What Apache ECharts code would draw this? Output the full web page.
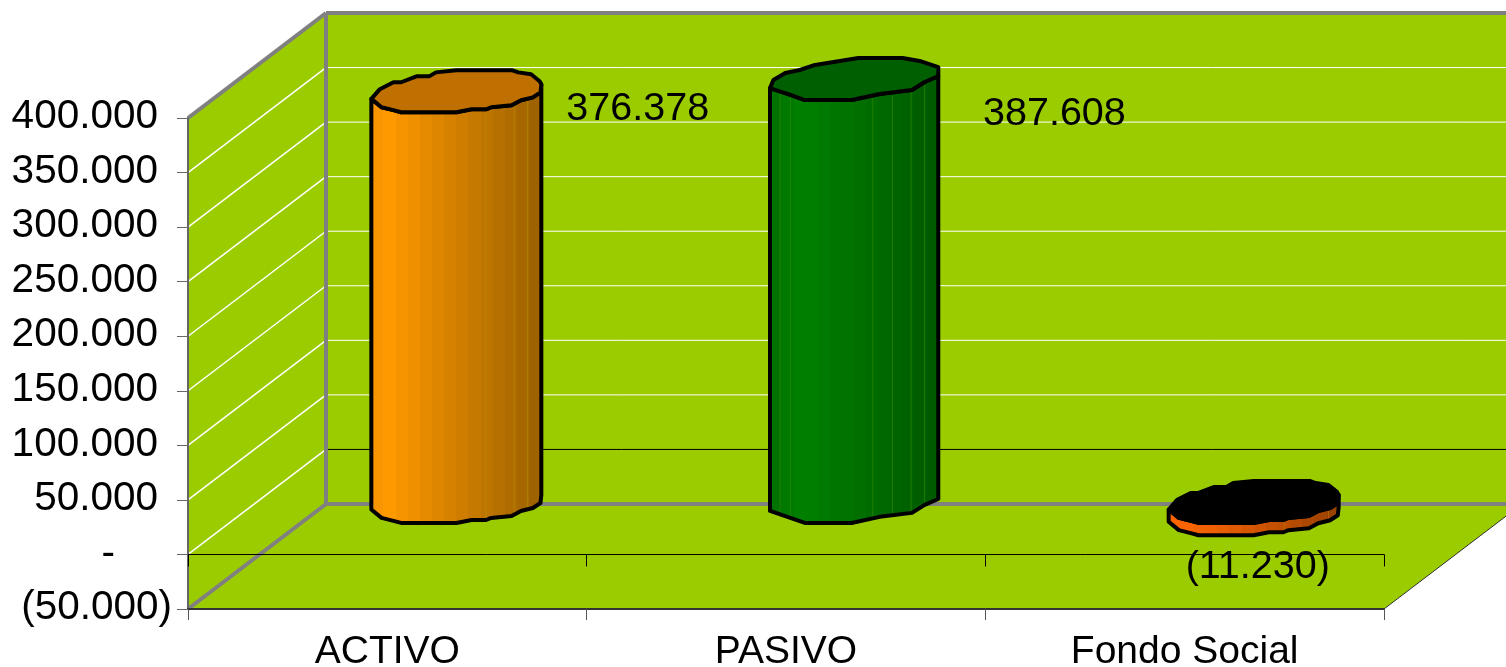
<!DOCTYPE html>
<html><head><meta charset="utf-8">
<style>html,body{margin:0;padding:0;background:#fff}#c{width:1506px;height:667px}</style>
<script src="https://cdn.jsdelivr.net/npm/echarts@6/dist/echarts.min.js"></script>
</head><body><div id="c"></div>
<script>
const categories = ['ACTIVO', 'PASIVO', 'Fondo Social'];
const values = [376378, 387608, -11230];
const yMin = -50000, yMax = 400000, yStep = 50000;

// Oblique projection and styling
const DEPTH_X = 138, DEPTH_Y = -105;
const WALL = '#9BCC00', EDGE = '#808080';
const FONT = '39.5px "Liberation Sans", Arial, sans-serif';
const RX = 85, RY = 21;
// Hand-traced jagged outlines of the projected circle (unit radius, clockwise from the left)
const OUTLINE_A = [[-1,.36],[-.9,-.1],[-.74,-.43],[-.65,-.43],[-.47,-.71],[-.32,-.71],[-.24,-.9],[0,-1],[.66,-1],[.73,-.9],[.88,-.81],[.98,-.48],[1,-.33],[.99,.05],[.9,.29],[.76,.43],[.65,.67],[.41,.76],[.35,.86],[.18,.86],[0,1],[-.65,1],[-.74,.9],[-.88,.76]];
const OUTLINE_B = [[-1,.43],[-.96,.05],[-.82,-.29],[-.65,-.43],[-.47,-.67],[.04,-1],[.56,-1],[.76,-.86],[.98,-.57],[.98,-.14],[.82,.14],[.67,.52],[.29,.71],[-.04,1],[-.59,1],[-.76,.76]];
const SHAPES = [OUTLINE_A, OUTLINE_B, OUTLINE_A];
const RIGHT_IDX = [12, 9, 12];
const BODY = [
  [[0,'#F59200'],[.1,'#FF9900'],[1,'#9A6000']],
  [[0,'#007000'],[.2,'#008000'],[1,'#005800']],
  [[0,'#FF6600'],[.25,'#F06000'],[1,'#964000']]
];
const CAP = ['#C07000', '#005F00', '#000000'];
const SEAMS = [[.675,.84,.92], [.06,.12,.605,.72,.83,.91], [.68,.94]];
const SEAM_COLOR = ['#B89000', '#2E8A00', '#C07000'];
const LABEL_NUDGE = [[110, 18], [128, 35], [-68, 65]];

function fmt(v) {
  const s = Math.abs(v).toString().replace(/\B(?=(\d{3})+$)/g, '.');
  return v < 0 ? '(' + s + ')' : s;
}
function hex(c) { return [1,3,5].map(i => parseInt(c.substr(i,2),16)); }
function bands(anchors, n) {
  const stops = [];
  const at = t => {
    let k = 0;
    while (k < anchors.length - 2 && t > anchors[k+1][0]) k++;
    const a = anchors[k], b = anchors[k+1], f = (t - a[0]) / (b[0] - a[0]);
    const x = hex(a[1]), y = hex(b[1]);
    return 'rgb(' + x.map((q,i) => Math.round(q + (y[i]-q)*f)).join(',') + ')';
  };
  for (let i = 0; i < n; i++) {
    const c = at((i + .5) / n);
    stops.push({offset: i/n, color: c}, {offset: (i+1)/n, color: c});
  }
  return stops;
}

function renderWalls(params, api) {
  const g = params.coordSys, yAt = v => api.coord([0, v])[1];
  const x0 = g.x, x1 = g.x + g.width;
  const top = yAt(yMax), bot = yAt(yMin);
  const poly = (pts, style) => ({type:'polygon', shape:{points:pts}, style});
  const line = (a, b, stroke, lineWidth) => ({type:'line', shape:{x1:a[0],y1:a[1],x2:b[0],y2:b[1]}, style:{stroke, lineWidth}});
  const kids = [
    poly([[x0+DEPTH_X,top+DEPTH_Y],[x1+DEPTH_X,top+DEPTH_Y],[x1+DEPTH_X,bot+DEPTH_Y],[x0+DEPTH_X,bot+DEPTH_Y]], {fill:WALL}),
    poly([[x0,top],[x0+DEPTH_X,top+DEPTH_Y],[x0+DEPTH_X,bot+DEPTH_Y],[x0,bot]], {fill:WALL}),
    poly([[x0,bot],[x0+DEPTH_X,bot+DEPTH_Y],[x1+DEPTH_X,bot+DEPTH_Y],[x1,bot]], {fill:WALL})
  ];
  for (let v = yMin + yStep; v < yMax; v += yStep) {
    const y = yAt(v);
    kids.push(line([x0,y],[x0+DEPTH_X,y+DEPTH_Y],'#FFFFFF',1.5));
    kids.push(line([x0+DEPTH_X,y+DEPTH_Y],[x1+DEPTH_X,y+DEPTH_Y], v === 0 ? '#000000' : '#FFFFFF', 1));
  }
  kids.push(line([x0,top],[x0+DEPTH_X,top+DEPTH_Y],EDGE,4));
  kids.push(line([x0+DEPTH_X,top+DEPTH_Y],[x1+DEPTH_X,top+DEPTH_Y],EDGE,4));
  kids.push(line([x0+DEPTH_X,top+DEPTH_Y],[x0+DEPTH_X,bot+DEPTH_Y],EDGE,4));
  kids.push(line([x0+DEPTH_X,bot+DEPTH_Y],[x1+DEPTH_X,bot+DEPTH_Y],EDGE,4));
  kids.push(line([x0,bot],[x0+DEPTH_X,bot+DEPTH_Y],EDGE,4));
  kids.push(line([x1,bot],[x1+DEPTH_X,bot+DEPTH_Y],'#333333',1));
  return {type:'group', children:kids};
}

function renderCylinder(params, api) {
  const i = api.value(0), v = api.value(1);
  const s = SHAPES[i];
  const cx = api.coord([i, 0])[0] + DEPTH_X / 2;
  const yOf = w => api.coord([i, w])[1] + DEPTH_Y / 2;
  const capY = yOf(Math.max(v, 0)), baseY = yOf(Math.min(v, 0));
  const ring = cy => s.map(p => [cx + p[0]*RX, cy + p[1]*RY]);
  // Front half of a ring, walking from the right extreme round the bottom to the left extreme
  const lower = cy => {
    const r = ring(cy);
    return r.slice(RIGHT_IDX[i]).concat([r[0]]);
  };
  const bodyPts = lower(baseY).concat(lower(capY).reverse());
  const yOnLower = (x, cy) => {
    const pts = lower(cy);
    for (let k = 0; k < pts.length - 1; k++) {
      const a = pts[k], b = pts[k+1];
      if (x <= a[0] && x >= b[0]) return a[1] + (b[1]-a[1]) * (a[0]-x) / ((a[0]-b[0]) || 1);
    }
    return cy;
  };
  const seams = SEAMS[i].map(f => {
    const x = cx - RX + f * 2 * RX;
    return {type:'line', shape:{x1:x, y1:yOnLower(x, capY), x2:x, y2:yOnLower(x, baseY)},
            style:{stroke:SEAM_COLOR[i], lineWidth:1, opacity:.7}};
  });
  const nudge = LABEL_NUDGE[i];
  return {type:'group', children:[
    {type:'polygon', shape:{points:bodyPts}, style:{
      fill:{type:'linear',x:0,y:0,x2:1,y2:0,colorStops:bands(BODY[i],14)}}},
    ...seams,
    {type:'polygon', shape:{points:bodyPts}, style:{fill:'none', stroke:'#000', lineWidth:4, lineJoin:'round'}},
    {type:'polygon', shape:{points:ring(capY)}, style:{fill:CAP[i], stroke:'#000', lineWidth:4, lineJoin:'round'}},
    {type:'text', style:{x:cx+nudge[0], y:capY+nudge[1], text:fmt(v), font:FONT, fill:'#000', textAlign:'left', textVerticalAlign:'middle'}}
  ]};
}

const chart = echarts.init(document.getElementById('c'), null, {renderer:'canvas'});
chart.setOption({
  animation:false,
  backgroundColor:'#FFFFFF',
  grid:{left:188, right:122, top:118, height:491, containLabel:false, outerBoundsMode:'none'},
  xAxis:[
    {type:'category', data:categories, position:'bottom', z:2,
     axisLine:{onZero:false, lineStyle:{color:'#333333', width:2}},
     axisTick:{show:true, length:11, lineStyle:{color:'#555555', width:1}},
     axisLabel:{color:'#000', fontFamily:'Liberation Sans', fontSize:39, margin:24, interval:0}},
    {type:'category', data:categories, position:'bottom', z:2,
     axisLine:{onZero:true, lineStyle:{color:'#000000', width:1}},
     axisTick:{show:true, length:12, lineStyle:{color:'#000000', width:1}},
     axisLabel:{show:false}}
  ],
  yAxis:{type:'value', min:yMin, max:yMax, interval:yStep, z:2,
    axisLine:{show:true, lineStyle:{color:'#666666', width:2}},
    axisTick:{show:true, length:11, lineStyle:{color:'#666666', width:1}},
    splitLine:{show:false},
    axisLabel:{color:'#000', margin:16,
      formatter:v => v === 0 ? '{z|-}' : v < 0 ? '{n|' + fmt(v) + '}' : '{p|' + fmt(v) + '}',
      rich:{
        p:{fontFamily:'Liberation Sans', fontSize:40.5, color:'#000', padding:[0,14,2,0]},
        n:{fontFamily:'Liberation Sans', fontSize:40.5, color:'#000', padding:[0,0,2,0]},
        z:{fontFamily:'Liberation Sans', fontSize:40.5, color:'#000', padding:[0,57,2,0]}
      }}},
  series:[
    {type:'custom', name:'walls', z:1, silent:true, clip:false, xAxisIndex:0, yAxisIndex:0,
     data:[[0,0]], renderItem:renderWalls},
    {type:'custom', name:'values', z:3, silent:true, clip:false, xAxisIndex:0, yAxisIndex:0,
     encode:{x:0,y:1}, data:values.map((v,i)=>[i,v]), renderItem:renderCylinder}
  ]
});
</script></body></html>
